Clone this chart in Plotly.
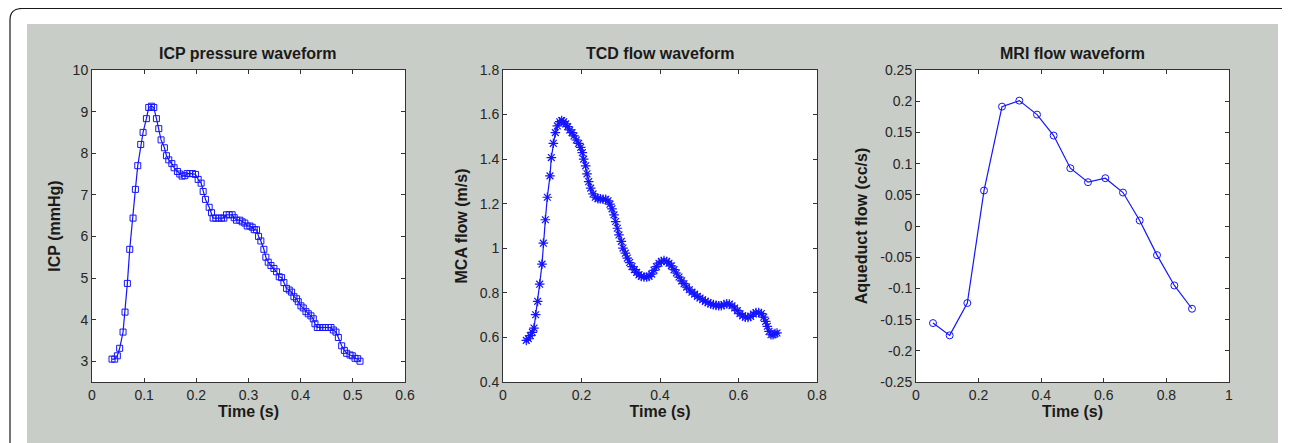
"""Three cardiac-cycle waveforms (ICP, TCD, MRI) in a MATLAB-style panel."""

import plotly.graph_objects as go
from plotly.subplots import make_subplots

# ICP pressure waveform
icp_time = [0.0384, 0.0435, 0.0486, 0.0530, 0.0595, 0.0633, 0.0678, 0.0723, 0.0787, 0.0832,
            0.0877, 0.0934, 0.0979, 0.1043, 0.1088, 0.1139, 0.1184, 0.1235, 0.1280, 0.1324,
            0.1388, 0.1427, 0.1472, 0.1530, 0.1574, 0.1638, 0.1683, 0.1727, 0.1779, 0.1823,
            0.1874, 0.1926, 0.1983, 0.2035, 0.2092, 0.2131, 0.2175, 0.2246, 0.2291, 0.2322,
            0.2374, 0.2431, 0.2482, 0.2527, 0.2578, 0.2630, 0.2687, 0.2726, 0.2770, 0.2834,
            0.2879, 0.2930, 0.2975, 0.3026, 0.3071, 0.3110, 0.3154, 0.3193, 0.3237, 0.3295,
            0.3333, 0.3378, 0.3430, 0.3487, 0.3538, 0.3589, 0.3634, 0.3679, 0.3730, 0.3781,
            0.3826, 0.3871, 0.3922, 0.3954, 0.4005, 0.4050, 0.4101, 0.4146, 0.4197, 0.4242,
            0.4274, 0.4319, 0.4370, 0.4421, 0.4472, 0.4530, 0.4581, 0.4626, 0.4677, 0.4722,
            0.4786, 0.4837, 0.4882, 0.4946, 0.4990, 0.5042, 0.5093, 0.5138]
icp_mmhg = [3.05, 3.05, 3.13, 3.31, 3.70, 4.18, 4.87, 5.69, 6.44, 7.13,
            7.70, 8.21, 8.50, 8.83, 9.10, 9.13, 9.10, 8.83, 8.59, 8.32,
            8.13, 7.94, 7.84, 7.75, 7.65, 7.56, 7.50, 7.45, 7.46, 7.51,
            7.51, 7.51, 7.49, 7.37, 7.28, 7.08, 6.89, 6.70, 6.57, 6.44,
            6.44, 6.44, 6.44, 6.44, 6.52, 6.52, 6.52, 6.45, 6.39, 6.39,
            6.35, 6.32, 6.25, 6.25, 6.22, 6.16, 6.16, 6.00, 5.89, 5.69,
            5.50, 5.38, 5.30, 5.23, 5.15, 5.03, 5.01, 4.89, 4.75, 4.71,
            4.66, 4.55, 4.50, 4.43, 4.33, 4.28, 4.19, 4.14, 4.09, 4.02,
            3.90, 3.81, 3.81, 3.81, 3.81, 3.81, 3.81, 3.75, 3.70, 3.57,
            3.37, 3.26, 3.19, 3.15, 3.13, 3.07, 3.06, 3.00]

# TCD flow waveform
tcd_time = [0.0594, 0.0645, 0.0696, 0.0747, 0.0790, 0.0832, 0.0883, 0.0934, 0.0994, 0.1028,
            0.1079, 0.1129, 0.1197, 0.1231, 0.1282, 0.1333, 0.1384, 0.1444, 0.1495, 0.1546,
            0.1597, 0.1648, 0.1699, 0.1758, 0.1809, 0.1868, 0.1928, 0.1979, 0.2021, 0.2055,
            0.2106, 0.2140, 0.2183, 0.2234, 0.2293, 0.2352, 0.2420, 0.2480, 0.2548, 0.2616,
            0.2675, 0.2726, 0.2777, 0.2828, 0.2870, 0.2913, 0.2955, 0.3015, 0.3057, 0.3117,
            0.3168, 0.3227, 0.3287, 0.3346, 0.3405, 0.3465, 0.3524, 0.3592, 0.3660, 0.3720,
            0.3788, 0.3847, 0.3907, 0.3975, 0.4034, 0.4102, 0.4170, 0.4229, 0.4289, 0.4357,
            0.4416, 0.4484, 0.4552, 0.4611, 0.4679, 0.4747, 0.4815, 0.4883, 0.4951, 0.5019,
            0.5087, 0.5155, 0.5223, 0.5291, 0.5359, 0.5427, 0.5495, 0.5563, 0.5630, 0.5699,
            0.5767, 0.5834, 0.5902, 0.5970, 0.6038, 0.6106, 0.6174, 0.6242, 0.6310, 0.6378,
            0.6446, 0.6514, 0.6582, 0.6641, 0.6692, 0.6735, 0.6777, 0.6828, 0.6879, 0.6930,
            0.6981]
tcd_flow = [0.587, 0.594, 0.608, 0.623, 0.642, 0.702, 0.762, 0.839, 0.929, 1.023,
            1.128, 1.229, 1.325, 1.407, 1.471, 1.519, 1.549, 1.568, 1.573, 1.568,
            1.558, 1.546, 1.531, 1.519, 1.504, 1.486, 1.471, 1.453, 1.429, 1.400,
            1.370, 1.334, 1.299, 1.270, 1.244, 1.229, 1.222, 1.222, 1.220, 1.220,
            1.213, 1.198, 1.177, 1.150, 1.120, 1.090, 1.060, 1.031, 1.001, 0.978,
            0.956, 0.936, 0.918, 0.904, 0.892, 0.881, 0.874, 0.871, 0.871, 0.874,
            0.884, 0.901, 0.918, 0.933, 0.941, 0.945, 0.941, 0.933, 0.921, 0.904,
            0.889, 0.871, 0.854, 0.841, 0.826, 0.814, 0.803, 0.794, 0.784, 0.777,
            0.769, 0.762, 0.756, 0.750, 0.747, 0.744, 0.742, 0.742, 0.747, 0.751,
            0.750, 0.742, 0.732, 0.720, 0.707, 0.697, 0.691, 0.690, 0.694, 0.705,
            0.712, 0.712, 0.707, 0.691, 0.672, 0.650, 0.627, 0.612, 0.612, 0.617,
            0.620]

# MRI flow waveform
mri_time = [0.0543, 0.1076, 0.1640, 0.2173, 0.2748, 0.3301, 0.3866, 0.4398,
            0.4931, 0.5495, 0.6049, 0.6613, 0.7146, 0.7700, 0.8254, 0.8818]
mri_flow = [-0.1556, -0.1753, -0.1235, 0.0568, 0.1913, 0.2009, 0.1785, 0.1449,
            0.0926, 0.0702, 0.0766, 0.0536, 0.0088, -0.0467, -0.0953, -0.1326]

panel_titles = ["ICP pressure waveform", "TCD flow waveform", "MRI flow waveform"]
y_titles = ["ICP (mmHg)", "MCA flow (m/s)", "Aqueduct flow (cc/s)"]

icp_xticks = [0, 0.1, 0.2, 0.3, 0.4, 0.5, 0.6]
icp_xlabels = ["0", "0.1", "0.2", "0.3", "0.4", "0.5", "0.6"]
icp_yticks = [3, 4, 5, 6, 7, 8, 9, 10]
icp_ylabels = ["3", "4", "5", "6", "7", "8", "9", "10"]
tcd_xticks = [0, 0.2, 0.4, 0.6, 0.8]
tcd_xlabels = ["0", "0.2", "0.4", "0.6", "0.8"]
tcd_yticks = [0.4, 0.6, 0.8, 1.0, 1.2, 1.4, 1.6, 1.8]
tcd_ylabels = ["0.4", "0.6", "0.8", "1", "1.2", "1.4", "1.6", "1.8"]
mri_xticks = [0, 0.2, 0.4, 0.6, 0.8, 1.0]
mri_xlabels = ["0", "0.2", "0.4", "0.6", "0.8", "1"]
mri_yticks = [-0.25, -0.2, -0.15, -0.1, -0.05, 0, 0.05, 0.1, 0.15, 0.2, 0.25]
mri_ylabels = ["-0.25", "-0.2", "-0.15", "-0.1", "-0.05", "0", "0.05", "0.1", "0.15", "0.2", "0.25"]

W, H = 1290, 443
PAGE_OFFSET = 8  # default body margin of the html page
BLUE = "#1414ff"
PANEL_GRAY = "#c9cdc7"
FONT = "Liberation Sans, Arial, sans-serif"


def px_x(v):
    return (v - PAGE_OFFSET) / W


def px_y(v):
    return 1 - (v - PAGE_OFFSET) / H


fig = make_subplots(rows=1, cols=3)

fig.add_trace(go.Scatter(
    x=icp_time, y=icp_mmhg, mode="lines+markers",
    line=dict(color=BLUE, width=1.2),
    marker=dict(symbol="square-open", size=6, color=BLUE, line=dict(width=1)),
), row=1, col=1)
fig.add_trace(go.Scatter(
    x=tcd_time, y=tcd_flow, mode="lines+markers",
    line=dict(color=BLUE, width=1.2),
    marker=dict(symbol="asterisk-open", size=8, color=BLUE, line=dict(width=1.2, color=BLUE)),
), row=1, col=2)
fig.add_trace(go.Scatter(
    x=mri_time, y=mri_flow, mode="lines+markers",
    line=dict(color=BLUE, width=1.2),
    marker=dict(symbol="circle-open", size=7, color=BLUE, line=dict(width=1)),
), row=1, col=3)

# plot areas in page pixels: (left, right), top 70, bottom 382
domains = [(92, 405), (503, 817), (916, 1229)]
y_dom = [px_y(382), px_y(70)]
x_setup = [([0, 0.6], icp_xticks, icp_xlabels), ([0, 0.8], tcd_xticks, tcd_xlabels),
           ([0, 1], mri_xticks, mri_xlabels)]
y_setup = [([2.5, 10], icp_yticks, icp_ylabels), ([0.4, 1.8], tcd_yticks, tcd_ylabels),
           ([-0.25, 0.25], mri_yticks, mri_ylabels)]

axis_common = dict(
    showline=True, linecolor="#333333", linewidth=1, mirror="allticks",
    ticks="inside", ticklen=4, tickcolor="#333333", showgrid=False, zeroline=False,
    automargin=False,
    tickfont=dict(family=FONT, size=14, color="#262626"),
)

shapes = [
    # gray figure panel
    dict(type="rect", xref="paper", yref="paper", x0=px_x(27), x1=px_x(1278),
         y0=0, y1=px_y(24), fillcolor=PANEL_GRAY, line=dict(width=0), layer="below"),
    # rounded outer frame
    dict(type="path", xref="paper", yref="paper", layer="above",
         path=(f"M {px_x(10)},0 L {px_x(10)},{px_y(20)} "
               f"Q {px_x(10)},{px_y(8.5)} {px_x(22)},{px_y(8.5)} "
               f"L {px_x(1283)},{px_y(8.5)} Q {px_x(1288)},{px_y(8.5)} {px_x(1290)},{px_y(10)}"),
         line=dict(color="#1a1a1a", width=1.2)),
]

annotations = []
for i in range(3):
    n = "" if i == 0 else str(i + 1)
    xr, xt, xl = x_setup[i]
    yr, yt, yl = y_setup[i]
    fig.update_layout({
        f"xaxis{n}": dict(domain=[px_x(domains[i][0]), px_x(domains[i][1])], range=xr,
                          tickvals=xt, ticktext=xl,
                          title=dict(text="<b>Time (s)</b>", standoff=2,
                                     font=dict(family=FONT, size=16, color="#1a1a1a")),
                          **axis_common),
        f"yaxis{n}": dict(domain=y_dom, range=yr, tickvals=yt, ticktext=yl,
                          title=dict(text=f"<b>{y_titles[i]}</b>", standoff=8,
                                     font=dict(family=FONT, size=16, color="#1a1a1a")),
                          **axis_common),
    })
    # white axes background drawn above the gray panel
    shapes.append(dict(type="rect", xref=f"x{n} domain", yref=f"y{n} domain",
                       x0=0, x1=1, y0=0, y1=1, fillcolor="white",
                       line=dict(width=0), layer="below"))
    annotations.append(dict(
        text=f"<b>{panel_titles[i]}</b>", xref="paper", yref="paper",
        x=px_x((domains[i][0] + domains[i][1]) / 2), y=px_y(53),
        xanchor="center", yanchor="middle", showarrow=False,
        font=dict(family=FONT, size=16, color="#1a1a1a"),
    ))

fig.update_layout(
    width=W, height=H,
    margin=dict(l=0, r=0, t=0, b=0),
    paper_bgcolor="white",
    plot_bgcolor="rgba(0,0,0,0)",
    showlegend=False,
    shapes=shapes,
    annotations=annotations,
)

fig.write_html("out.html")
